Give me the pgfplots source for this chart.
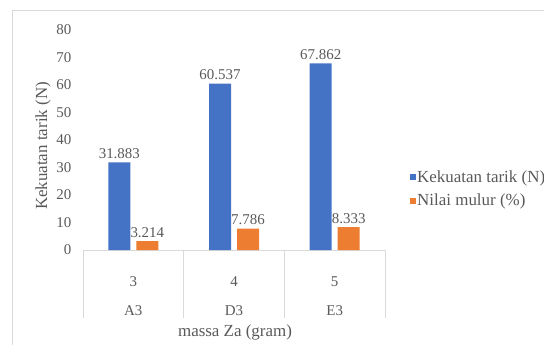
\documentclass[border=0pt]{standalone}
\usepackage{pgfplots}
\pgfplotsset{compat=1.18}
\usepackage{fontspec}
\setmainfont{Liberation Serif}
\definecolor{exblue}{HTML}{4472C4}
\definecolor{exorange}{HTML}{ED7D31}
\definecolor{txt}{HTML}{595959}
\definecolor{ln}{HTML}{D9D9D9}
\begin{document}
\begin{tikzpicture}[x=1bp,y=1bp]
\draw[ln, line width=0.8bp] (12,0) -- (12,335) -- (544,335);
\begin{axis}[
  at={(83bp,95bp)}, anchor=south west, scale only axis,
  width=302bp, height=220bp,
  ymin=0, ymax=80, xmin=-0.5, xmax=2.5,
  ybar=6bp, bar width=22bp,
  axis x line*=bottom, axis y line*=left,
  y axis line style={draw=none},
  x axis line style={ln, line width=0.8bp, -},
  ytick={0,10,...,80}, ytick style={draw=none},
  yticklabel style={font=\fontsize{15}{18}\selectfont, text=txt, xshift=-4bp},
  /pgf/number format/assume math mode=true,
  xtick={0,1,2}, xticklabels={3\\A3,4\\D3,5\\E3},
  major x tick style={draw=none},
  minor xtick={-0.5,0.5,1.5,2.5}, minor tick length=68bp,
  tick align=outside,
  minor x tick style={ln, line width=0.8bp},
  xticklabel style={align=center, font=\fontsize{15}{29}\selectfont, text=txt, yshift=-19bp},
  point meta=explicit symbolic,
  nodes near coords,
  every node near coord/.append style={font=\fontsize{15}{18}\selectfont, text=txt},
  legend style={at={(rel axis cs:1.073,0.277)}, anchor=west, draw=none, fill=none,
    font=\fontsize{17}{20}\selectfont, text=txt, row sep=8bp, nodes={inner sep=1bp}},
  legend cell align=left,
]
\addplot[fill=exblue, draw=none,
  legend image code/.code={\fill[exblue] (0bp,-3bp) rectangle (6bp,3bp);}]
  coordinates {(0,31.883) [31.883] (1,60.537) [60.537] (2,67.862) [67.862]};
\addlegendentry{Kekuatan tarik (N)}
\addplot[fill=exorange, draw=none,
  legend image code/.code={\fill[exorange] (0bp,-3bp) rectangle (6bp,3bp);}]
  coordinates {(0,3.214) [3.214] (1,7.786) [7.786] (2,8.333) [8.333]};
\addlegendentry{Nilai mulur (\%)}
\end{axis}
\node[rotate=90, text=txt, font=\fontsize{17}{20}\selectfont] at (43,199) {Kekuatan tarik (N)};
\node[text=txt, font=\fontsize{17}{20}\selectfont] at (235,13) {massa Za (gram)};
\pgfresetboundingbox
\path[use as bounding box] (0,0) rectangle (544,345);
\end{tikzpicture}
\end{document}
